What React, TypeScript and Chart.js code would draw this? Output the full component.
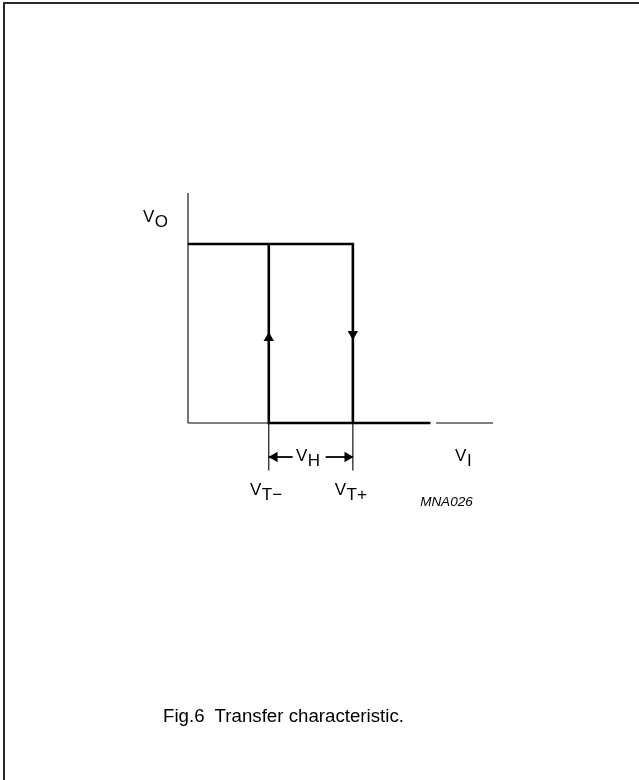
import React, { useEffect, useRef } from "react";
import { Chart, registerables } from "chart.js";

Chart.register(...registerables);

// ---- data (arbitrary voltage units) ----
const V_T_MINUS = 0.98;
const V_T_PLUS = 2.0;
const V_HIGH = 1;
const V_LOW = 0;

const loopUpperX = [0, V_T_PLUS, V_T_PLUS];
const loopUpperY = [V_HIGH, V_HIGH, V_LOW];
const loopLowerX = [2.94, V_T_MINUS, V_T_MINUS];
const loopLowerY = [V_LOW, V_LOW, V_HIGH];

const yAxisX = [0, 0];
const yAxisY = [0, 1.285];
const xAxisLeftX = [0, 2.94];
const xAxisRightX = [3.01, 3.7];
const xAxisY = [0, 0];

const thresholdX = [V_T_MINUS, V_T_PLUS];
const thresholdTickY = [0, -0.265];

const hystArrowY = -0.19;
const hystShaftLeftX = [V_T_MINUS, 1.27];
const hystShaftRightX = [1.67, V_T_PLUS];

const arrowX = [V_T_MINUS, V_T_PLUS, 1.05, 1.935];
const arrowY = [0.475, 0.497, hystArrowY, hystArrowY];
const arrowRotation = [0, 180, 270, 90];

const labelMain = ["V", "V", "V", "V", "V"];
const labelSub = ["O", "I", "H", "T\u2212", "T+"];
const labelX = [-0.546, 3.24, 1.31, 0.752, 1.78];
const labelY = [1.123, -0.215, -0.215, -0.4, -0.4];

const codeText = "MNA026";
const codeX = 2.816;
const codeY = -0.464;

const caption = "Fig.6  Transfer characteristic.";

const FONT = '"Liberation Sans", Arial, Helvetica, sans-serif';

function pts(xs: number[], ys: number[]) {
  return xs.map((x, i) => ({ x, y: ys[i] }));
}

export default function App() {
  const ref = useRef<HTMLCanvasElement | null>(null);

  useEffect(() => {
    if (!ref.current) return;
    const thick = { borderColor: "#000", borderWidth: 2.6, pointRadius: 0, showLine: true, clip: false as any, borderJoinStyle: "miter" as const, borderCapStyle: "butt" as const };
    const thin = { borderColor: "#000", borderWidth: 1.1, pointRadius: 0, showLine: true, clip: false as any, borderCapStyle: "butt" as const };

    const labelsPlugin = {
      id: "labels",
      afterDatasetsDraw(chart: any) {
        const { ctx } = chart;
        const xs = chart.scales.x;
        const ys = chart.scales.y;
        ctx.save();
        ctx.fillStyle = "#000";
        ctx.textBaseline = "alphabetic";
        ctx.textAlign = "left";
        for (let i = 0; i < labelMain.length; i++) {
          const px = xs.getPixelForValue(labelX[i]);
          const py = ys.getPixelForValue(labelY[i]);
          ctx.font = `17px ${FONT}`;
          ctx.fillText(labelMain[i], px, py);
          const w = ctx.measureText(labelMain[i]).width;
          ctx.fillText(labelSub[i], px + w + 0.5, py + 5);
        }
        ctx.font = `italic 13.5px ${FONT}`;
        ctx.fillText(codeText, xs.getPixelForValue(codeX), ys.getPixelForValue(codeY));
        ctx.restore();
      },
    };

    const chart = new Chart(ref.current, {
      type: "scatter",
      data: {
        datasets: [
          { ...thin, label: "y axis", data: pts(yAxisX, yAxisY) },
          { ...thin, label: "x axis", data: pts(xAxisLeftX, xAxisY) },
          { ...thin, label: "x axis 2", data: pts(xAxisRightX, xAxisY) },
          { ...thin, label: "VT- tick", data: pts([thresholdX[0], thresholdX[0]], thresholdTickY) },
          { ...thin, label: "VT+ tick", data: pts([thresholdX[1], thresholdX[1]], thresholdTickY) },
          { ...thick, label: "upper", data: pts(loopUpperX, loopUpperY) },
          { ...thick, label: "lower", data: pts(loopLowerX, loopLowerY) },
          { ...thin, borderWidth: 1.8, label: "VH left", data: pts(hystShaftLeftX, [hystArrowY, hystArrowY]) },
          { ...thin, borderWidth: 1.8, label: "VH right", data: pts(hystShaftRightX, [hystArrowY, hystArrowY]) },
          {
            label: "arrows",
            data: pts(arrowX, arrowY),
            showLine: false,
            pointStyle: "triangle",
            pointRadius: 6,
            pointRotation: arrowRotation,
            backgroundColor: "#000",
            borderColor: "#000",
            borderWidth: 0,
            clip: false as any,
          } as any,
        ],
      },
      options: {
        animation: false,
        responsive: false,
        devicePixelRatio: 1,
        events: [],
        layout: { padding: { left: 188, right: 146, top: 193, bottom: 276.45 } },
        plugins: { legend: { display: false }, tooltip: { enabled: false }, title: { display: false } },
        scales: {
          x: { type: "linear", min: 0, max: 3.7, display: false },
          y: { type: "linear", min: -0.45, max: 1.285, display: false },
        },
      },
      plugins: [labelsPlugin],
    });
    return () => chart.destroy();
  }, []);

  return (
    <div style={{ position: "absolute", left: 0, top: 0, width: 639, height: 780, background: "#fff", overflow: "hidden" }}>
      <div
        style={{
          position: "absolute",
          left: 3,
          top: 2,
          width: 700,
          height: 800,
          borderLeft: "2px solid #2a2a2a",
          borderTop: "2px solid #2a2a2a",
        }}
      />
      <canvas ref={ref} width={639} height={780} style={{ position: "absolute", left: 0, top: 0, width: 639, height: 780 }} />
      <div
        style={{
          position: "absolute",
          left: 0,
          width: 567,
          top: 705,
          textAlign: "center",
          fontFamily: FONT,
          fontSize: 18.7,
          color: "#000",
          whiteSpace: "pre",
        }}
      >
        {caption}
      </div>
    </div>
  );
}
